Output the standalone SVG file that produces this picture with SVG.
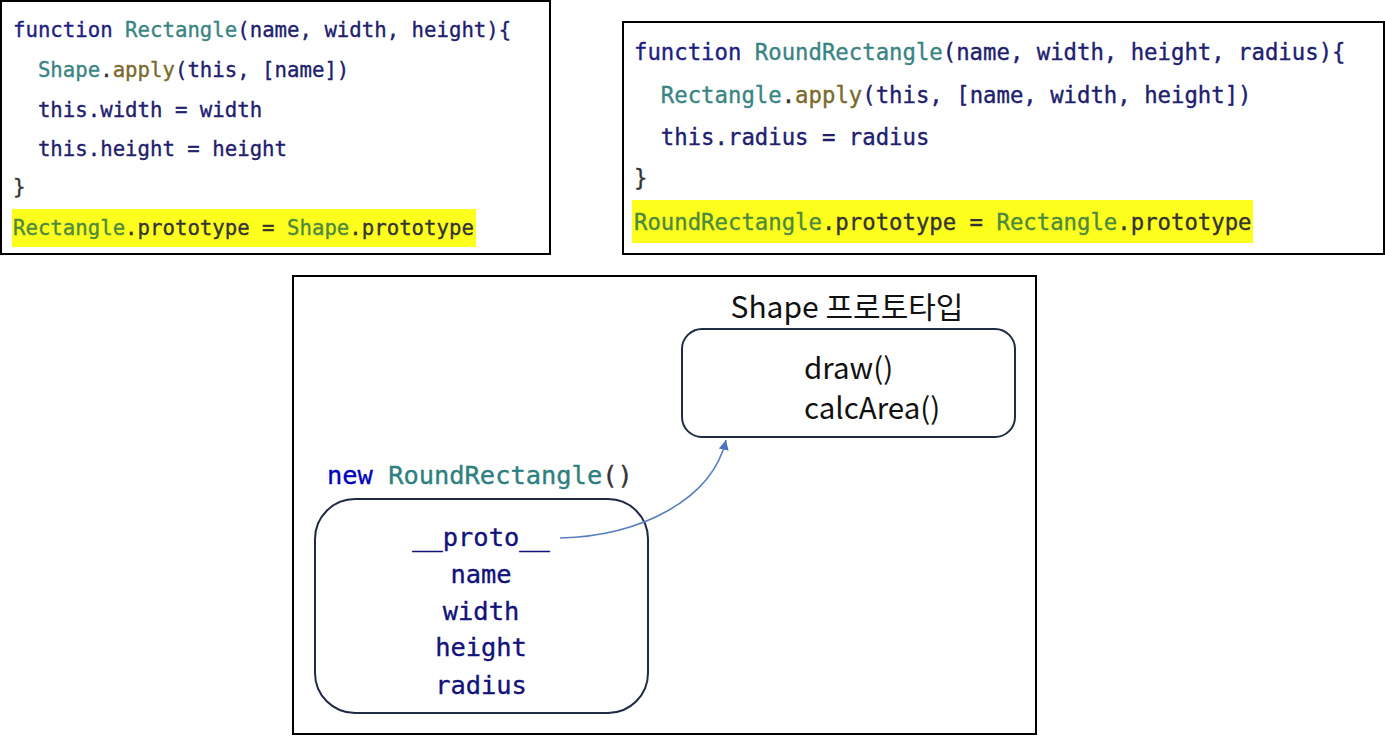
<svg xmlns="http://www.w3.org/2000/svg" width="1385" height="736" viewBox="0 0 1385 736">
<style>
.frame{fill:#fff;stroke:#000;stroke-width:2}
.code{font-family:"DejaVu Sans Mono","Liberation Mono",monospace;white-space:pre;stroke-width:0.35}
.c1{font-size:20.7px}
.c2{font-size:22.3px}
.c3{font-size:25.4px}
.kw{fill:#1e1e82;stroke:#1e1e82}
.cls{fill:#3a8484;stroke:#3a8484}
.clsh{fill:#4d8a3e;stroke:#4d8a3e}
.fn{fill:#7a6a2c;stroke:#7a6a2c}
.id{fill:#20206e;stroke:#20206e}
.pl{fill:#333;stroke:#333}
.hl{fill:#ffff1e}
.node{fill:#fff;stroke:#1f2a44;stroke-width:2}
.sans{font-family:"Noto Sans CJK KR","Noto Sans",sans-serif;fill:#111}
.s1{font-size:30px}
.s2{font-size:29.5px}
.prop{fill:#12127a;stroke:#12127a}
.edge{fill:none;stroke:#5b80c0;stroke-width:1.5}
</style>
<defs>
<marker id="arr" markerWidth="12" markerHeight="12" refX="10" refY="6" orient="auto" markerUnits="userSpaceOnUse">
<path d="M0,1 L10,6 L0,11 Z" fill="#4a72c0"/>
</marker>
</defs>
<rect width="1385" height="736" fill="#fff"/>

<g id="code-rectangle">
<rect class="frame" x="1" y="1" width="549" height="253"/>
<rect class="hl" x="12" y="209" width="464" height="38"/>
<text class="code c1" x="13" y="37"><tspan class="kw">function </tspan><tspan class="cls">Rectangle</tspan><tspan class="id">(name, width, height){</tspan></text>
<text class="code c1" x="13" y="77"><tspan class="cls">  Shape</tspan><tspan class="pl">.</tspan><tspan class="fn">apply</tspan><tspan class="id">(this, [name])</tspan></text>
<text class="code c1 id" x="13" y="117">  this.width = width</text>
<text class="code c1 id" x="13" y="156">  this.height = height</text>
<text class="code c1 pl" x="13" y="194">}</text>
<text class="code c1" x="13" y="235"><tspan class="clsh">Rectangle</tspan><tspan class="pl">.prototype = </tspan><tspan class="clsh">Shape</tspan><tspan class="pl">.prototype</tspan></text>
</g>

<g id="code-roundrectangle">
<rect class="frame" x="623" y="22" width="761" height="232"/>
<rect class="hl" x="632" y="200" width="621" height="43"/>
<text class="code c2" x="634" y="60"><tspan class="kw">function </tspan><tspan class="cls">RoundRectangle</tspan><tspan class="id">(name, width, height, radius){</tspan></text>
<text class="code c2" x="634" y="103"><tspan class="cls">  Rectangle</tspan><tspan class="pl">.</tspan><tspan class="fn">apply</tspan><tspan class="id">(this, [name, width, height])</tspan></text>
<text class="code c2 id" x="634" y="145">  this.radius = radius</text>
<text class="code c2 pl" x="634" y="186">}</text>
<text class="code c2" x="634" y="230"><tspan class="clsh">RoundRectangle</tspan><tspan class="pl">.prototype = </tspan><tspan class="clsh">Rectangle</tspan><tspan class="pl">.prototype</tspan></text>
</g>

<g id="diagram-frame">
<rect class="frame" x="293" y="276" width="743" height="458"/>
</g>

<g id="shape-prototype">
<text class="sans s1" x="847" y="318" text-anchor="middle">Shape 프로토타입</text>
<rect class="node" x="682" y="329" width="333" height="108" rx="20" ry="20"/>
<text class="sans s2" x="804" y="379">draw()</text>
<text class="sans s2" x="804" y="419">calcArea()</text>
</g>

<g id="round-rectangle-instance">
<text class="code c3" x="327" y="484"><tspan fill="#0000c0" stroke="#0000c0">new </tspan><tspan fill="#2e8080" stroke="#2e8080">RoundRectangle</tspan><tspan fill="#333" stroke="#333">()</tspan></text>
<rect class="node" x="315" y="499" width="333" height="214" rx="40" ry="40"/>
<text class="code c3 prop" x="481" y="546" text-anchor="middle">__proto__</text>
<text class="code c3 prop" x="481" y="583" text-anchor="middle">name</text>
<text class="code c3 prop" x="481" y="620" text-anchor="middle">width</text>
<text class="code c3 prop" x="481" y="656" text-anchor="middle">height</text>
<text class="code c3 prop" x="481" y="694" text-anchor="middle">radius</text>
</g>

<g id="connectors">
<path class="edge" d="M560,538 C640,536 712,500 726,440" marker-end="url(#arr)"/>
</g>
</svg>
